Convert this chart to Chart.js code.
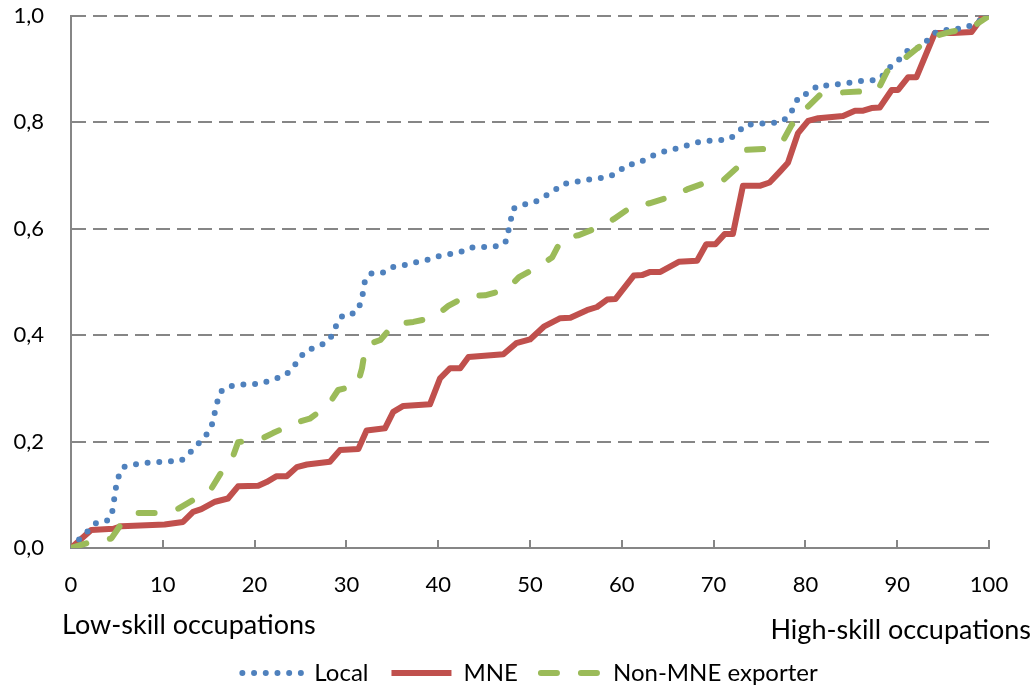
<!DOCTYPE html>
<html>
<head>
<meta charset="utf-8">
<script src="https://cdn.jsdelivr.net/npm/chart.js@4.4.0/dist/chart.umd.min.js"></script>
<style>
  html, body { margin: 0; padding: 0; background: #fff; }
</style>
</head>
<body>
<canvas id="cdfChart" width="1035" height="689"></canvas>
<script>
// ==============================
// Data
// ==============================
const seriesNames = ["Local", "MNE", "Non-MNE exporter"];

const localX = [0, 1.0, 1.9, 2.8, 4.1, 4.5, 4.7, 4.9, 5.2, 5.7, 6.9, 8.0, 12.0, 12.9, 13.8, 14.6, 15.3, 15.6, 15.9, 16.2,
  17.0, 18.2, 20.8, 21.9, 23.1, 24.1, 24.8, 25.6, 26.8, 27.9, 28.6, 29.0, 29.7, 30.9, 31.5, 31.8, 32.0, 32.6, 33.9, 35.0,
  36.2, 37.5, 38.7, 39.9, 42.4, 43.6, 46.1, 47.3, 47.6, 47.9, 48.1, 49.1, 50.4, 51.5, 52.6, 53.5, 54.7, 56.0, 58.5, 59.6,
  60.5, 61.8, 62.9, 64.1, 65.3, 66.6, 67.8, 69.0, 70.3, 71.6, 72.5, 73.4, 74.7, 77.2, 78.2, 78.8, 79.3, 80.4, 81.4, 82.7,
  84.0, 85.2, 86.5, 87.8, 88.7, 89.4, 90.5, 91.3, 92.5, 94.3, 95.5, 97.5, 100];
const localY = [0, 0.018, 0.033, 0.048, 0.052, 0.069, 0.091, 0.114, 0.135, 0.152, 0.157, 0.160, 0.164, 0.178, 0.195, 0.209, 0.228, 0.250, 0.272, 0.292,
  0.303, 0.307, 0.309, 0.317, 0.322, 0.336, 0.355, 0.371, 0.378, 0.387, 0.403, 0.424, 0.439, 0.441, 0.458, 0.479, 0.500, 0.516, 0.517, 0.528,
  0.531, 0.537, 0.541, 0.548, 0.556, 0.565, 0.566, 0.573, 0.593, 0.615, 0.637, 0.645, 0.649, 0.660, 0.671, 0.684, 0.687, 0.692, 0.697, 0.706,
  0.720, 0.723, 0.734, 0.743, 0.748, 0.754, 0.761, 0.765, 0.766, 0.768, 0.778, 0.795, 0.797, 0.800, 0.811, 0.831, 0.850, 0.855, 0.870, 0.869,
  0.873, 0.875, 0.879, 0.879, 0.892, 0.908, 0.922, 0.938, 0.941, 0.971, 0.974, 0.978, 1.0];

const mneX = [0, 2.2, 4.6, 5.5, 10.2, 12.2, 13.3, 14.2, 15.7, 17.1, 18.2, 20.4, 21.3, 22.4, 23.5, 24.6, 25.7, 28.2, 29.3, 31.3,
  32.2, 34.2, 35.1, 36.2, 39.1, 40.2, 41.3, 42.4, 43.3, 47.1, 48.5, 50.0, 51.5, 53.3, 54.4, 56.2, 57.3, 58.4, 59.3, 61.3,
  62.2, 63.1, 64.2, 66.2, 68.2, 69.2, 70.2, 71.2, 72.1, 73.2, 75.1, 76.1, 77.2, 78.1, 79.2, 80.3, 81.4, 84.1, 85.4, 86.3,
  87.2, 88.1, 89.4, 90.1, 91.2, 92.1, 94.1, 96.1, 98.1, 99.2, 100];
const mneY = [0, 0.034, 0.036, 0.041, 0.044, 0.049, 0.068, 0.073, 0.087, 0.093, 0.116, 0.117, 0.124, 0.135, 0.135, 0.152, 0.157, 0.162, 0.184, 0.186,
  0.221, 0.225, 0.256, 0.267, 0.270, 0.319, 0.338, 0.338, 0.359, 0.364, 0.385, 0.392, 0.416, 0.432, 0.433, 0.447, 0.453, 0.467, 0.468, 0.512,
  0.513, 0.519, 0.519, 0.538, 0.540, 0.571, 0.571, 0.590, 0.590, 0.681, 0.681, 0.687, 0.707, 0.724, 0.780, 0.803, 0.808, 0.812, 0.822, 0.822,
  0.827, 0.828, 0.861, 0.861, 0.885, 0.885, 0.968, 0.968, 0.970, 0.996, 1.0];

const exporterX = [0, 2.1, 4.4, 5.5, 7.2, 9.4, 11.7, 13.3, 15.3, 16.4, 17.5, 18.2, 20.6, 22.0, 24.4, 26.0, 28.0, 29.1, 31.2, 31.7,
  32.1, 33.7, 35.2, 37.3, 39.5, 41.1, 43.1, 45.1, 47.5, 48.8, 50.8, 52.4, 53.5, 55.3, 57.6, 59.1, 61.1, 63.0, 65.3, 67.1,
  69.2, 71.1, 72.5, 73.2, 75.4, 77.6, 78.5, 80.0, 81.6, 83.6, 85.9, 87.9, 88.9, 90.5, 92.3, 93.8, 96.0, 97.9, 100];
const exporterY = [0, 0.011, 0.018, 0.046, 0.066, 0.066, 0.074, 0.090, 0.112, 0.143, 0.165, 0.199, 0.204, 0.216, 0.235, 0.243, 0.268, 0.297, 0.306, 0.338,
  0.381, 0.391, 0.421, 0.425, 0.433, 0.455, 0.474, 0.475, 0.486, 0.509, 0.528, 0.546, 0.582, 0.588, 0.604, 0.618, 0.642, 0.648, 0.660, 0.674,
  0.687, 0.692, 0.714, 0.748, 0.750, 0.767, 0.795, 0.825, 0.852, 0.856, 0.858, 0.861, 0.896, 0.916, 0.941, 0.961, 0.971, 0.976, 1.0];

const xTicks = [0, 10, 20, 30, 40, 50, 60, 70, 80, 90, 100];
const yTicks = [0, 0.2, 0.4, 0.6, 0.8, 1.0];
const lowLabel = "Low-skill occupations";
const highLabel = "High-skill occupations";

// ==============================
// Helpers
// ==============================
const toPoints = (xs, ys) => xs.map((x, i) => ({ x: x, y: ys[i] }));
const FONT = "Lato, 'Open Sans', sans-serif";
const AXIS_GRAY = "#868686";

// tick marks inside the plot on the x axis + the two end labels
const extras = {
  id: "extras",
  beforeDatasetsDraw(chart) {
    const ctx = chart.ctx;
    const xs = chart.scales.x;
    const bottom = chart.chartArea.bottom;
    ctx.save();
    ctx.strokeStyle = AXIS_GRAY;
    ctx.lineWidth = 2;
    xTicks.forEach(t => {
      const px = Math.round(xs.getPixelForValue(t));
      ctx.beginPath();
      ctx.moveTo(px, bottom);
      ctx.lineTo(px, bottom - 8);
      ctx.stroke();
    });
    ctx.restore();
  },
  afterDraw(chart) {
    const ctx = chart.ctx;
    const area = chart.chartArea;
    ctx.save();
    ctx.fillStyle = "#000";
    ctx.font = "27px " + FONT;
    ctx.textBaseline = "middle";
    ctx.textAlign = "left";
    ctx.fillText(lowLabel, area.left - 9, area.bottom + 77);
    ctx.textAlign = "right";
    ctx.fillText(highLabel, area.right + 42, area.bottom + 82);
    ctx.restore();
  }
};

// legend entries take the line styles straight from the datasets
const legendLabels = chart => chart.data.datasets.map((ds, i) => ({
  text: ds.label,
  strokeStyle: ds.borderColor,
  fillStyle: ds.borderColor,
  lineWidth: ds.borderWidth,
  lineDash: ds.borderDash || [],
  lineCap: ds.borderCapStyle,
  pointStyle: "line",
  fontColor: "#000",
  hidden: false,
  datasetIndex: i
}));

// ==============================
// Chart
// ==============================
const ctx = document.getElementById("cdfChart").getContext("2d");
new Chart(ctx, {
  type: "line",
  data: {
    datasets: [
      {
        label: seriesNames[0],
        data: toPoints(localX, localY),
        borderColor: "#4F81BD",
        borderWidth: 6,
        borderDash: [0, 11.7],
        borderCapStyle: "round",
        order: 1
      },
      {
        label: seriesNames[1],
        data: toPoints(mneX, mneY),
        borderColor: "#C0504D",
        borderWidth: 6,
        borderCapStyle: "butt",
        order: 2
      },
      {
        label: seriesNames[2],
        data: toPoints(exporterX, exporterY),
        borderColor: "#9BBB59",
        borderWidth: 6,
        borderDash: [16, 24],
        borderCapStyle: "round",
        order: 0
      }
    ]
  },
  options: {
    responsive: false,
    animation: false,
    events: [],
    elements: {
      point: { radius: 0 },
      line: { tension: 0, fill: false, borderJoinStyle: "round" }
    },
    layout: { padding: { top: 16, right: 46, left: 0, bottom: -6 } },
    plugins: {
      tooltip: { enabled: false },
      legend: {
        position: "bottom",
        fullSize: false,
        labels: {
          usePointStyle: true,
          pointStyleWidth: 60,
          boxHeight: 24,
          padding: 23,
          color: "#000",
          font: { family: FONT, size: 24 },
          generateLabels: legendLabels
        }
      }
    },
    scales: {
      x: {
        type: "linear",
        min: 0,
        max: 100,
        afterFit: s => { s.height = 90; },
        afterBuildTicks: s => { s.ticks = xTicks.map(v => ({ value: v })); },
        grid: { display: false, drawTicks: true, tickLength: 24 },
        border: { display: true, color: AXIS_GRAY, width: 2 },
        ticks: {
          padding: 0,
          maxRotation: 0,
          color: "#000",
          font: { family: FONT, size: 22 }
        }
      },
      y: {
        min: 0,
        max: 1,
        afterFit: s => { s.width = 71; },
        afterBuildTicks: s => { s.ticks = yTicks.map(v => ({ value: v })); },
        grid: {
          color: AXIS_GRAY,
          lineWidth: 2,
          drawTicks: true,
          tickLength: 27,
          tickColor: "rgba(0,0,0,0)"
        },
        border: { display: true, color: AXIS_GRAY, width: 2, dash: [14, 7] },
        ticks: {
          padding: 0,
          color: "#000",
          font: { family: FONT, size: 22 },
          callback: v => v.toFixed(1).replace(".", ",")
        }
      }
    }
  },
  plugins: [extras]
});
</script>
</body>
</html>
